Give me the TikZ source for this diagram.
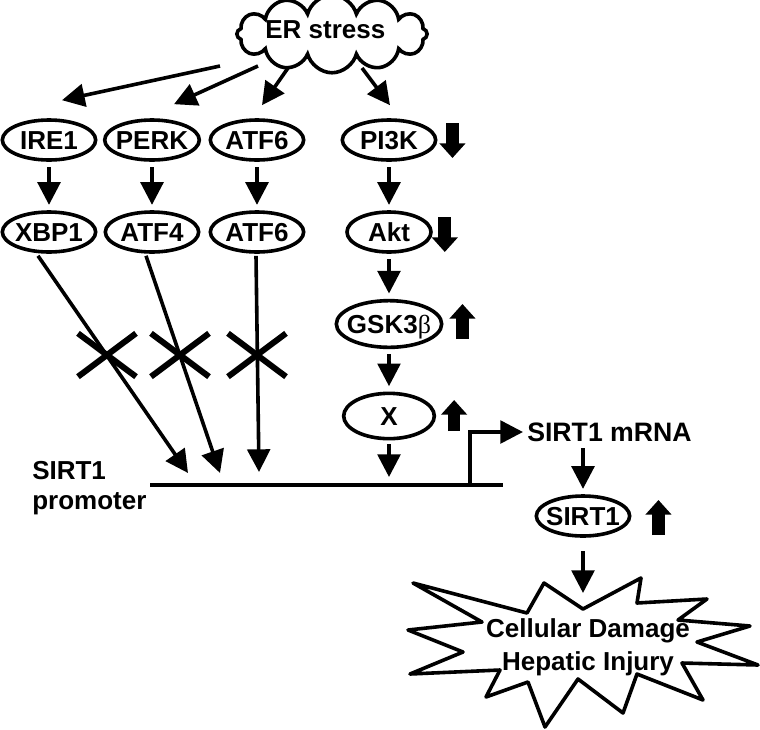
\documentclass[tikz,border=0pt]{standalone}
\usepackage{fontspec}
\setmainfont{Liberation Sans}
\newfontfamily\grk{Liberation Serif}
\usetikzlibrary{calc,shapes,arrows.meta}
\tikzset{%
  mol/.style={ellipse,draw,line width=2.7pt,minimum width=70pt,minimum height=30pt,
    inner xsep=-2pt,inner ysep=0pt,text height=13.6pt,text depth=0pt,
    font=\fontsize{19.5}{22}\selectfont\bfseries},
  act/.style={line width=2.7pt,-{Triangle[length=17pt,width=17pt]}},
  pre/.style={line width=2.7pt,{Triangle[length=17pt,width=17pt]}-,
    shorten <=4pt,shorten >=4pt},
  change/.style={line width=9.5pt,-{Triangle[length=11pt,width=19pt]}},
  block/.style={cross out,draw,line width=4.5pt,minimum width=39pt,
    minimum height=28pt,inner sep=0pt},
  lbl/.style={font=\fontsize{19.5}{24.75}\selectfont\bfseries,inner sep=0pt}
}

\begin{document}
\begin{tikzpicture}[x=0.75pt,y=-0.75pt,node distance=69pt]
    \useasboundingbox (0,0) rectangle (760,729);
    \node [cloud,cloud puffs=12,cloud ignores aspect,draw,line width=2.7pt,
      minimum width=142pt,minimum height=55pt,lbl,text height=14pt,text depth=8pt]
      (er) at (332,34) {ER stress\hspace*{10pt}};

    \node [mol] (ire1) at (49,140) {IRE1};
    \node [mol] (perk) at (152,140) {PERK};
    \node [mol] (atf6a) at (257,140) {ATF6};
    \node [mol] (pi3k) at (389,140) {PI3K};
    \draw [act] ($(er)+(-112,32)$) -- ($(ire1.north)+(13,-18)$);
    \draw [act] ($(er)+(-74,32)$) -- ($(perk.north)+(22,-14)$);
    \draw [act] ($(er)+(-44,34)$) -- ($(atf6a.north)+(5,-13)$);
    \draw [act] ($(er)+(30,34)$) -- ($(pi3k.north)+(1,-13)$);

    \node [mol] (xbp1) [below of=ire1] {XBP1} edge [pre] (ire1);
    \node [mol] (atf4) [below of=perk] {ATF4} edge [pre] (perk);
    \node [mol] (atf6b) [below of=atf6a] {ATF6} edge [pre] (atf6a);
    \node [mol,minimum width=63pt] (akt) [below of=pi3k] {Akt} edge [pre] (pi3k);
    \node [mol,minimum width=79pt,minimum height=35pt,inner xsep=-5pt] (gsk)
      [below of=akt] {GSK3{\grk\mdseries β}} edge [pre] (akt);
    \node [mol,minimum width=68pt,minimum height=34pt] (xfac) [below of=gsk] {X}
      edge [pre] (gsk);

    \draw [change] ($(pi3k.east)+(15,-17)$) -- ++(0,35);
    \draw [change] ($(akt.east)+(12,-15)$) -- ++(0,35);
    \draw [change] ($(gsk.east)+(19,15)$) -- ++(0,-35);
    \draw [change] ($(xfac.east)+(18,15)$) -- ++(0,-31);

    % promoter
    \coordinate (pl) at (150,485);
    \coordinate (pr) at (503,485);
    \coordinate (tss) at (470,485);
    \draw [line width=2.7pt] (pl) -- (pr);
    \node [lbl,font=\fontsize{19.5}{22.5}\selectfont\bfseries,align=left,anchor=west]
      (prom) at (32,488) {SIRT1\\promoter};

    \draw [act] ($(xbp1.south)+(-11,2)$) -- ($(pl)+(38,-12)$);
    \draw [act] ($(atf4.south)+(-6,2)$) -- ($(pl)+(70,-12)$);
    \draw [act] ($(atf6b.south)+(-1,2)$) -- ($(pl)+(109,-13)$);
    \node [block] (cut1) at (107,355) {};
    \node [block] (cut2) at (180,355) {};
    \node [block] (cut3) at (257,355) {};
    \draw [act,shorten <=3pt,shorten >=6pt] (xfac.south) -- (xfac.south |- pl);

    \node [lbl,font=\fontsize{20}{24}\selectfont\bfseries,anchor=west] (mrna)
      at (527,432) {SIRT1 mRNA};
    \draw [act,shorten >=3pt] (tss) |- (mrna.west);

    \node [mol,inner xsep=-3pt] (sirt1) at (583,516) {SIRT1};
    \draw [act,shorten <=5pt,shorten >=4pt] (mrna.south -| sirt1.north) -- (sirt1.north);
    \draw [change] ($(sirt1.east)+(27,19)$) -- ++(0,-35);

    % damage burst
    \coordinate (dent) at (583,609);
    \draw [line width=2.7pt,line join=round] (413,583) -- (527,613) -- (544,583)
      -- (dent) -- (641,578) -- (637,603) -- (707,599) -- (678,620) -- (750,626)
      -- (697,642) -- (758,665) -- (682,663) -- (703,700) -- (637,674) -- (623,713)
      -- (578,679) -- (545,727) -- (528,682) -- (486,697) -- (500,670) -- (410,674)
      -- (463,652) -- (408,630) -- (482,622) -- cycle;
    \node [lbl,align=center] (harm) at (588,647) {Cellular Damage\\Hepatic Injury};
    \draw [act,shorten <=10pt,shorten >=12pt] (sirt1.south) -- (dent);
  \end{tikzpicture}
\end{document}
